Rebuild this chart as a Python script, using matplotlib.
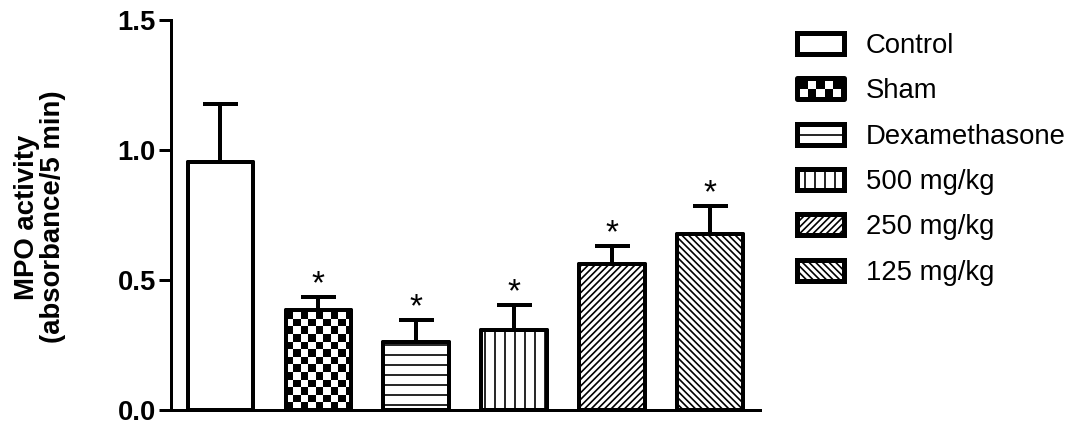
import numpy as np
import matplotlib
matplotlib.use("Agg")
import matplotlib.pyplot as plt
from matplotlib.patches import Rectangle
from matplotlib.legend_handler import HandlerBase
from matplotlib.ticker import FormatStrFormatter

# MPO activity per treatment group (mean and SEM)
groups = ["Control", "Sham", "Dexamethasone", "500 mg/kg", "250 mg/kg", "125 mg/kg"]
mpo_mean = [0.954, 0.385, 0.262, 0.308, 0.562, 0.677]
mpo_sem = [0.223, 0.050, 0.084, 0.096, 0.069, 0.108]
significant = [False, True, True, True, True, True]
fills = [None, "checker", "--", "||", "//////", "\\\\\\\\\\\\"]
y_ticks = [0.0, 0.5, 1.0, 1.5]

plt.rcParams["font.family"] = ["Liberation Sans", "DejaVu Sans"]
plt.rcParams["hatch.linewidth"] = 1.0
plt.rcParams["hatch.color"] = "black"

EDGE = 2.4
KEY_EDGE = 3.0
CHECK_W, CHECK_H = 0.076, 0.029


class HandlerChecker(HandlerBase):
    """Legend key: black box with a two-row checkerboard inside."""

    def create_artists(self, legend, orig_handle, xdescent, ydescent,
                       width, height, fontsize, trans):
        x0, y0 = -xdescent, -ydescent
        frame = Rectangle((x0, y0), width, height, facecolor="black",
                          edgecolor="black", linewidth=KEY_EDGE,
                          joinstyle="round", transform=trans)
        artists = [frame]
        inset = KEY_EDGE / 2
        nx, ny = 5, 2
        cw = (width - 2 * inset) / nx
        ch = (height - 2 * inset) / ny
        for i in range(nx):
            for j in range(ny):
                if (i + j) % 2 == 0:
                    artists.append(Rectangle((x0 + inset + i * cw, y0 + inset + j * ch),
                                             cw, ch, facecolor="white",
                                             edgecolor="none", transform=trans))
        return artists


fig = plt.figure(figsize=(9, 3.55), dpi=120)
ax = fig.add_axes([0.1583, 0.0376, 0.5454, 0.9155])

x = np.arange(len(groups))
bars = ax.bar(x, mpo_mean, width=0.67, facecolor="white", edgecolor="black",
              linewidth=EDGE, joinstyle="round", zorder=2)
for b, f in zip(bars, fills):
    if f and f != "checker":
        b.set_hatch(f)

# checkerboard fill for the sham bar, clipped to the bar outline
for b, f in zip(bars, fills):
    if f == "checker":
        x0, w, h = b.get_x(), b.get_width(), b.get_height()
        nx = int(np.ceil(w / CHECK_W))
        ny = int(np.ceil(h / CHECK_H))
        cells = np.indices((ny, nx)).sum(axis=0) % 2
        im = ax.imshow(cells, cmap="gray", origin="lower", interpolation="nearest",
                       extent=(x0, x0 + nx * CHECK_W, 0, ny * CHECK_H),
                       aspect="auto", zorder=2.5)
        im.set_clip_path(b)

# outlines on top of the fills
ax.bar(x, mpo_mean, width=0.67, fill=False, edgecolor="black",
       linewidth=EDGE, joinstyle="round", zorder=3)

ax.errorbar(x, mpo_mean, yerr=[np.zeros(len(x)), mpo_sem], fmt="none",
            ecolor="black", elinewidth=EDGE, capsize=10.5, capthick=EDGE,
            zorder=1.5)

for xi, m, s, sig in zip(x, mpo_mean, mpo_sem, significant):
    if sig:
        ax.annotate("*", (xi, m + s), xytext=(0, 2), textcoords="offset points",
                    ha="center", va="baseline", fontsize=20)

ax.set_xlim(-0.505, 5.51)
ax.set_ylim(0, 1.5)
ax.set_xticks([])
ax.set_yticks(y_ticks)
ax.yaxis.set_major_formatter(FormatStrFormatter("%.1f"))
for side in ("top", "right"):
    ax.spines[side].set_visible(False)
for side in ("left", "bottom"):
    ax.spines[side].set_linewidth(1.8)
ax.tick_params(axis="y", length=7, width=1.8, pad=2, labelsize=16.5)
for lbl in ax.get_yticklabels():
    lbl.set_fontweight("bold")

fig.text(40 / 1080, 1 - 217 / 426, "MPO activity\n(absorbance/5 min)",
         rotation=90, ha="center", va="center", fontsize=16.5,
         fontweight="bold", linespacing=1.05, multialignment="center")

handles = []
checker_key = None
for f in fills:
    p = Rectangle((0, 0), 1, 1, facecolor="white", edgecolor="black",
                  linewidth=KEY_EDGE, joinstyle="round")
    if f == "checker":
        checker_key = p
    elif f:
        p.set_hatch(f)
    handles.append(p)

fig.legend(handles, groups, loc="upper left",
           bbox_to_anchor=(797 / 1080, 1 - 33 / 426),
           handler_map={checker_key: HandlerChecker()},
           frameon=False, fontsize=16.5, handlelength=1.7, handleheight=0.8,
           handletextpad=0.8, labelspacing=0.70, borderpad=0, borderaxespad=0)

fig.savefig("out.png", dpi=120)
